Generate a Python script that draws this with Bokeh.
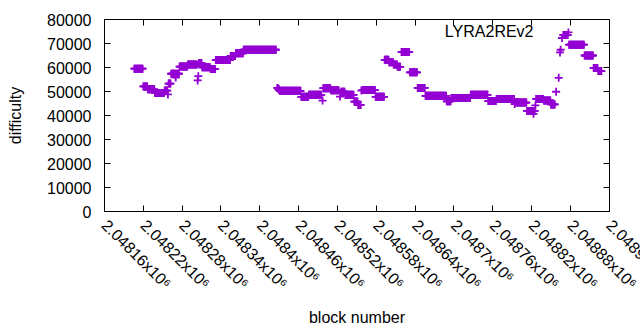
import math
from bokeh.plotting import figure
from bokeh.models import Range1d, FixedTicker, LinearAxis, Label, ColumnDataSource
from bokeh.embed import file_html
from bokeh.resources import INLINE

# Runs of blocks with (approximately) constant difficulty
run_start = [2048206, 2048220, 2048227, 2048238, 2048253, 2048258, 2048259, 2048263, 2048270, 2048271,
             2048276, 2048289, 2048304, 2048305, 2048306, 2048311, 2048324, 2048332, 2048355, 2048363,
             2048375, 2048427, 2048429, 2048431, 2048464, 2048476, 2048497, 2048498, 2048510, 2048524,
             2048526, 2048532, 2048546, 2048552, 2048557, 2048559, 2048579, 2048593, 2048600, 2048607,
             2048613, 2048619, 2048632, 2048644, 2048656, 2048689, 2048696, 2048726, 2048753, 2048766,
             2048794, 2048796, 2048813, 2048823, 2048824, 2048826, 2048827, 2048839, 2048850, 2048858,
             2048862, 2048864, 2048865, 2048867, 2048869, 2048877, 2048878, 2048902, 2048916, 2048923]
run_end = [2048219, 2048226, 2048237, 2048252, 2048257, 2048258, 2048262, 2048269, 2048270, 2048275,
           2048288, 2048303, 2048304, 2048305, 2048310, 2048323, 2048331, 2048354, 2048362, 2048374,
           2048425, 2048428, 2048430, 2048463, 2048475, 2048495, 2048497, 2048509, 2048522, 2048524,
           2048531, 2048545, 2048551, 2048556, 2048557, 2048578, 2048592, 2048599, 2048606, 2048612,
           2048617, 2048631, 2048643, 2048655, 2048688, 2048695, 2048725, 2048752, 2048765, 2048793,
           2048794, 2048812, 2048822, 2048823, 2048825, 2048826, 2048838, 2048849, 2048856, 2048858,
           2048862, 2048864, 2048865, 2048867, 2048876, 2048877, 2048901, 2048915, 2048922, 2048928]
run_difficulty = [59500, 52100, 50900, 49400, 50400, 48800, 53300, 57400, 55800, 57400,
                  60400, 61200, 54600, 56400, 61900, 60100, 59400, 63100, 64800, 65900,
                  67400, 51500, 50800, 50300, 47800, 48600, 46200, 51400, 50500, 47900,
                  49900, 48600, 45800, 44400, 50400, 50600, 47800, 63200, 62200, 61200,
                  60300, 66500, 58000, 51500, 48200, 45900, 47300, 48600, 46000, 46900,
                  44800, 45400, 41900, 40700, 41900, 44200, 46900, 46300, 44600, 49900,
                  55700, 66300, 67400, 72300, 73500, 74600, 69500, 65000, 59800, 58500]

x_ticks = [2048160, 2048220, 2048280, 2048340, 2048400, 2048460, 2048520,
           2048580, 2048640, 2048700, 2048760, 2048820, 2048880, 2048940]
x_tick_labels = ["2.04816x10⁶", "2.04822x10⁶", "2.04828x10⁶", "2.04834x10⁶", "2.0484x10⁶",
                 "2.04846x10⁶", "2.04852x10⁶", "2.04858x10⁶", "2.04864x10⁶", "2.0487x10⁶",
                 "2.04876x10⁶", "2.04882x10⁶", "2.04888x10⁶", "2.04894x10⁶"]
y_ticks = [0, 10000, 20000, 30000, 40000, 50000, 60000, 70000, 80000]
y_tick_labels = ["0", "10000", "20000", "30000", "40000", "50000", "60000", "70000", "80000"]
series_name = "LYRA2REv2"

blocks, diffs = [], []
for s, e, d in zip(run_start, run_end, run_difficulty):
    for b in range(s, e + 1):
        blocks.append(b)
        diffs.append(d)
src = ColumnDataSource(dict(block=blocks, difficulty=diffs))

FONT = "Liberation Sans"
FS = "16px"
COLOR = "#9400D3"

# a hair of extra room past the last tick holds an unlabeled guard tick; Bokeh only
# pulls the outermost label back inside the canvas, so the real last label is left
# to run off the edge as in the reference
X_END = x_ticks[-1] + 0.5
guard_ticks = x_ticks + [X_END]
bottom_labels = {t: l for t, l in zip(x_ticks, x_tick_labels)}
bottom_labels[X_END] = ""

p = figure(width=640, height=330, output_backend="svg", toolbar_location=None,
           x_range=Range1d(x_ticks[0], X_END), y_range=Range1d(y_ticks[0], y_ticks[-1]),
           min_border_left=104, min_border_right=31, min_border_top=19, min_border_bottom=119,
           x_axis_label="block number", y_axis_label="difficulty")
p.grid.visible = False
p.outline_line_color = "black"
p.outline_line_width = 1
p.background_fill_color = "white"
p.border_fill_color = "white"

p.scatter("block", "difficulty", source=src, marker="cross", size=8,
          line_color=COLOR, line_width=1.8)

for ax in (p.xaxis[0], p.yaxis[0]):
    ax.axis_line_color = "black"
    ax.major_tick_in = 6
    ax.major_tick_out = 0
    ax.minor_tick_line_color = None
    ax.major_label_text_font = FONT
    ax.major_label_text_font_size = FS
    ax.major_label_text_color = "black"
    ax.axis_label_text_font = FONT
    ax.axis_label_text_font_size = FS
    ax.axis_label_text_font_style = "normal"
    ax.axis_label_text_color = "black"

p.xaxis[0].ticker = FixedTicker(ticks=guard_ticks)
p.xaxis[0].major_label_overrides = bottom_labels
p.xaxis[0].major_label_orientation = -math.pi / 4
p.xaxis[0].major_label_standoff = 11
p.xaxis[0].axis_label_standoff = 8

p.yaxis[0].ticker = FixedTicker(ticks=y_ticks)
p.yaxis[0].major_label_overrides = {t: l for t, l in zip(y_ticks, y_tick_labels)}
p.yaxis[0].major_label_standoff = 13
p.yaxis[0].axis_label_standoff = 20

# mirrored inward ticks on the top and right frame edges (no labels)
top = LinearAxis(ticker=FixedTicker(ticks=x_ticks),
                 major_label_overrides={t: "" for t in x_ticks},
                 major_tick_in=6, major_tick_out=0, minor_tick_line_color=None,
                 axis_line_color=None, major_label_standoff=0)
p.add_layout(top, "above")
right = LinearAxis(ticker=FixedTicker(ticks=y_ticks),
                   major_label_overrides={t: "" for t in y_ticks},
                   major_tick_in=6, major_tick_out=0, minor_tick_line_color=None,
                   axis_line_color=None, major_label_standoff=0)
p.add_layout(right, "right")

p.add_layout(Label(x=429, y=180, x_units="screen", y_units="screen", text=series_name,
                   text_align="right", text_baseline="middle", text_font=FONT,
                   text_font_size=FS, text_color="black"))

open("out.html", "w").write(file_html(p, INLINE))
